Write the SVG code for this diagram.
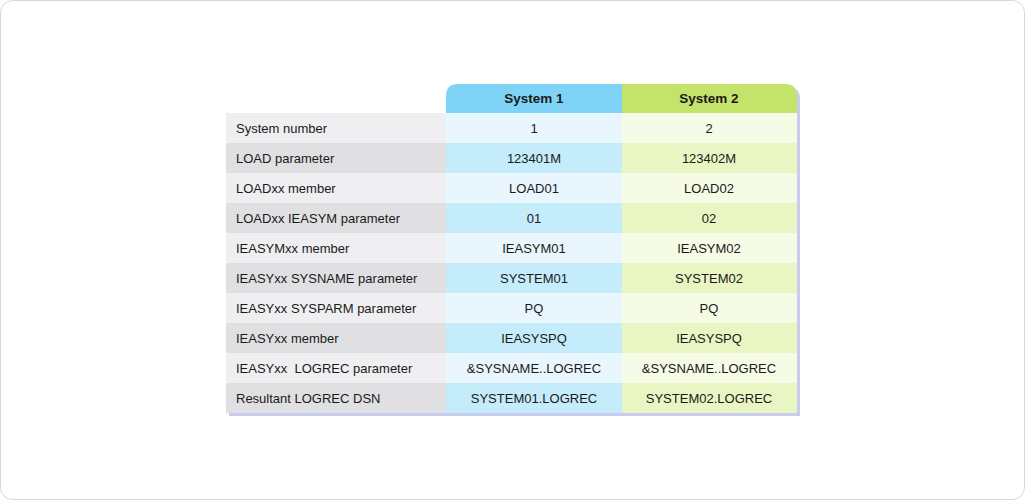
<svg xmlns="http://www.w3.org/2000/svg" width="1025" height="500" viewBox="0 0 1025 500">
<style>
text{font-family:"Liberation Sans",Arial,sans-serif;font-size:13px;fill:#1a1a1a}
.h{font-weight:bold;font-size:13.5px;text-anchor:middle}
.c{text-anchor:middle}
.la{fill:#efeff1}.lb{fill:#e0e0e2}
.s1a{fill:#eaf6fd}.s1b{fill:#c5ecfb}
.s2a{fill:#f5fbe5}.s2b{fill:#e9f6c4}
</style>
<rect x="0.5" y="0.5" width="1024" height="499" rx="12" fill="#fff" stroke="#d8d8d8"/>
<g id="table">
<path d="M229 116 H449 V99 Q449 87 461 87 H788 Q800 87 800 99 V416 H229 Z" fill="#c8cdf0"/>
<path d="M446 113 V96 Q446 84 458 84 H622 V113 Z" fill="#7fd3f7"/>
<path d="M622 84 H785 Q797 84 797 96 V113 H622 Z" fill="#c3e36a"/>
<text class="h" x="534" y="103">System 1</text>
<text class="h" x="709" y="103">System 2</text>
<g id="r1"><rect class="la" x="226" y="113" width="220" height="30"/><rect class="s1a" x="446" y="113" width="176" height="30"/><rect class="s2a" x="622" y="113" width="175" height="30"/>
<text x="236" y="133">System number</text><text class="c" x="534" y="133">1</text><text class="c" x="709" y="133">2</text></g>
<g id="r2"><rect class="lb" x="226" y="143" width="220" height="30"/><rect class="s1b" x="446" y="143" width="176" height="30"/><rect class="s2b" x="622" y="143" width="175" height="30"/>
<text x="236" y="163">LOAD parameter</text><text class="c" x="534" y="163">123401M</text><text class="c" x="709" y="163">123402M</text></g>
<g id="r3"><rect class="la" x="226" y="173" width="220" height="30"/><rect class="s1a" x="446" y="173" width="176" height="30"/><rect class="s2a" x="622" y="173" width="175" height="30"/>
<text x="236" y="193">LOADxx member</text><text class="c" x="534" y="193">LOAD01</text><text class="c" x="709" y="193">LOAD02</text></g>
<g id="r4"><rect class="lb" x="226" y="203" width="220" height="30"/><rect class="s1b" x="446" y="203" width="176" height="30"/><rect class="s2b" x="622" y="203" width="175" height="30"/>
<text x="236" y="223">LOADxx IEASYM parameter</text><text class="c" x="534" y="223">01</text><text class="c" x="709" y="223">02</text></g>
<g id="r5"><rect class="la" x="226" y="233" width="220" height="30"/><rect class="s1a" x="446" y="233" width="176" height="30"/><rect class="s2a" x="622" y="233" width="175" height="30"/>
<text x="236" y="253">IEASYMxx member</text><text class="c" x="534" y="253">IEASYM01</text><text class="c" x="709" y="253">IEASYM02</text></g>
<g id="r6"><rect class="lb" x="226" y="263" width="220" height="30"/><rect class="s1b" x="446" y="263" width="176" height="30"/><rect class="s2b" x="622" y="263" width="175" height="30"/>
<text x="236" y="283">IEASYxx SYSNAME parameter</text><text class="c" x="534" y="283">SYSTEM01</text><text class="c" x="709" y="283">SYSTEM02</text></g>
<g id="r7"><rect class="la" x="226" y="293" width="220" height="30"/><rect class="s1a" x="446" y="293" width="176" height="30"/><rect class="s2a" x="622" y="293" width="175" height="30"/>
<text x="236" y="313">IEASYxx SYSPARM parameter</text><text class="c" x="534" y="313">PQ</text><text class="c" x="709" y="313">PQ</text></g>
<g id="r8"><rect class="lb" x="226" y="323" width="220" height="30"/><rect class="s1b" x="446" y="323" width="176" height="30"/><rect class="s2b" x="622" y="323" width="175" height="30"/>
<text x="236" y="343">IEASYxx member</text><text class="c" x="534" y="343">IEASYSPQ</text><text class="c" x="709" y="343">IEASYSPQ</text></g>
<g id="r9"><rect class="la" x="226" y="353" width="220" height="30"/><rect class="s1a" x="446" y="353" width="176" height="30"/><rect class="s2a" x="622" y="353" width="175" height="30"/>
<text x="236" y="373" xml:space="preserve">IEASYxx  LOGREC parameter</text><text class="c" x="534" y="373">&amp;SYSNAME..LOGREC</text><text class="c" x="709" y="373">&amp;SYSNAME..LOGREC</text></g>
<g id="r10"><rect class="lb" x="226" y="383" width="220" height="30"/><rect class="s1b" x="446" y="383" width="176" height="30"/><rect class="s2b" x="622" y="383" width="175" height="30"/>
<text x="236" y="403">Resultant LOGREC DSN</text><text class="c" x="534" y="403">SYSTEM01.LOGREC</text><text class="c" x="709" y="403">SYSTEM02.LOGREC</text></g>
</g>
<g id="connectors"/>
</svg>
